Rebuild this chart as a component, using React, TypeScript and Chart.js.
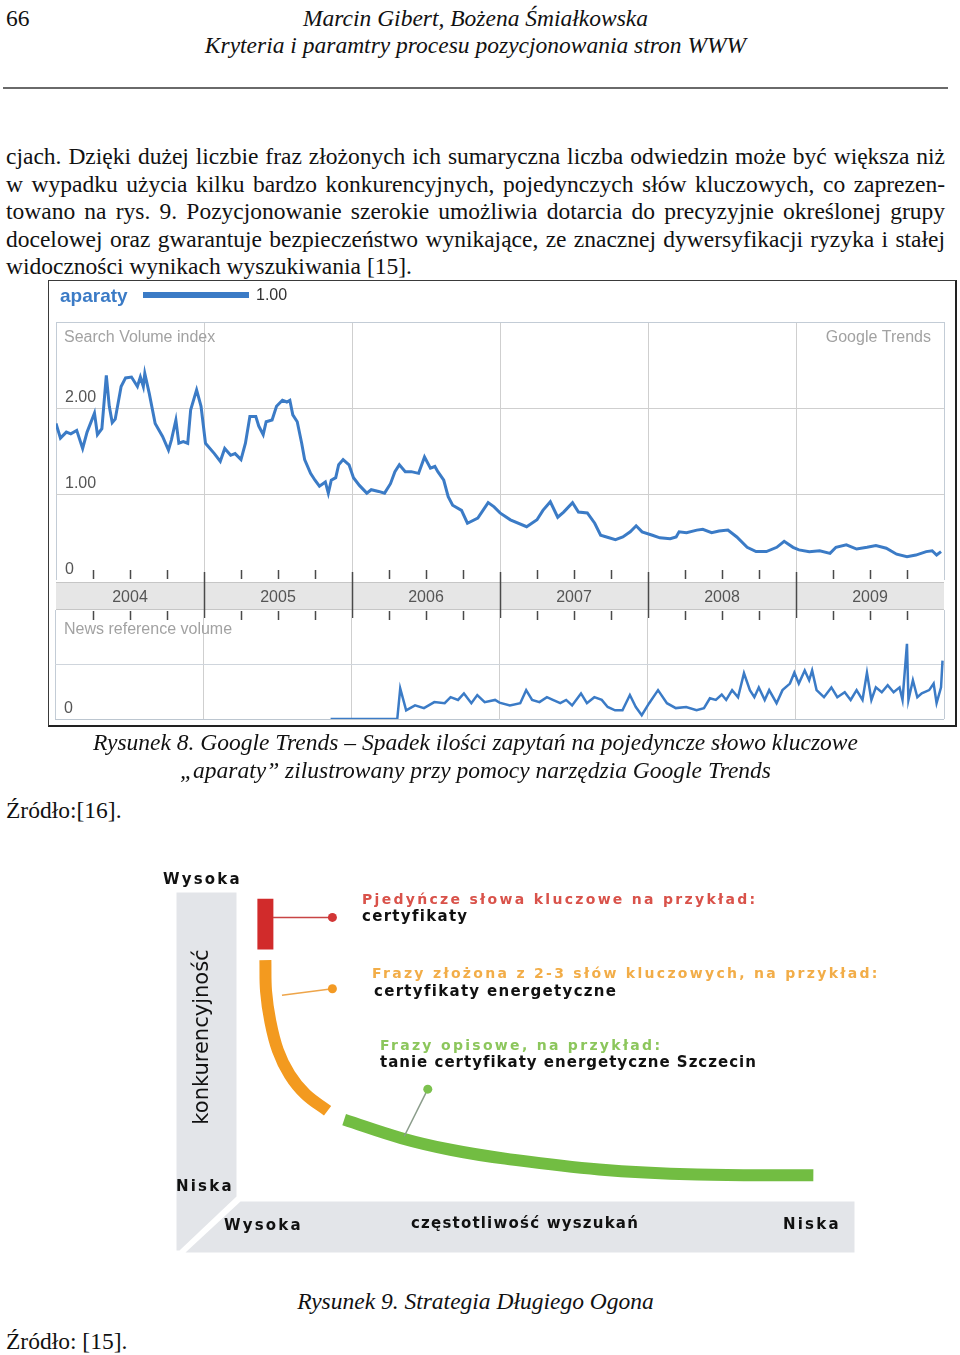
import React, { useEffect, useRef } from 'react';
import { Chart, registerables } from 'chart.js';

Chart.register(...registerables);

// ---------- Figure 8: Google Trends "aparaty" ----------
const yearLabels = ['2004', '2005', '2006', '2007', '2008', '2009'];
const legendLabel = 'aparaty';
const legendValue = '1.00';

const searchDates = [
  2004.00, 2004.03, 2004.07, 2004.10, 2004.14, 2004.18, 2004.21, 2004.26, 2004.28, 2004.31,
  2004.34, 2004.36, 2004.38, 2004.40, 2004.44, 2004.47, 2004.51, 2004.55, 2004.57, 2004.59,
  2004.60, 2004.63, 2004.67, 2004.72, 2004.76, 2004.78, 2004.81, 2004.83, 2004.86, 2004.89,
  2004.91, 2004.95, 2004.98, 2005.01, 2005.07, 2005.11, 2005.14, 2005.18, 2005.21, 2005.25,
  2005.28, 2005.31, 2005.35, 2005.37, 2005.40, 2005.42, 2005.46, 2005.49, 2005.53, 2005.56,
  2005.58, 2005.60, 2005.63, 2005.66, 2005.68, 2005.72, 2005.75, 2005.78, 2005.82, 2005.84,
  2005.86, 2005.89, 2005.91, 2005.94, 2005.98, 2006.01, 2006.05, 2006.10, 2006.13, 2006.18,
  2006.22, 2006.26, 2006.29, 2006.32, 2006.36, 2006.40, 2006.45, 2006.49, 2006.53, 2006.56,
  2006.58, 2006.62, 2006.65, 2006.68, 2006.74, 2006.78, 2006.85, 2006.92, 2006.96, 2007.00,
  2007.07, 2007.18, 2007.25, 2007.29, 2007.34, 2007.39, 2007.43, 2007.49, 2007.53, 2007.59,
  2007.64, 2007.68, 2007.72, 2007.78, 2007.83, 2007.88, 2007.92, 2007.96, 2008.03, 2008.08,
  2008.15, 2008.19, 2008.21, 2008.26, 2008.33, 2008.37, 2008.43, 2008.48, 2008.54, 2008.60,
  2008.67, 2008.73, 2008.80, 2008.87, 2008.92, 2008.98, 2009.02, 2009.09, 2009.16, 2009.23,
  2009.27, 2009.34, 2009.41, 2009.48, 2009.54, 2009.61, 2009.68, 2009.75, 2009.81, 2009.88,
  2009.92, 2009.95, 2009.98,
];
const searchValues = [
  1.82, 1.65, 1.72, 1.70, 1.74, 1.53, 1.72, 1.94, 1.69, 1.76,
  2.38, 2.02, 1.83, 1.87, 2.25, 2.35, 2.36, 2.25, 2.36, 2.25,
  2.40, 2.17, 1.82, 1.67, 1.51, 1.63, 1.86, 1.59, 1.61, 1.59,
  1.98, 2.21, 2.02, 1.59, 1.47, 1.38, 1.53, 1.45, 1.47, 1.40,
  1.59, 1.90, 1.90, 1.79, 1.69, 1.84, 1.86, 2.02, 2.09, 2.07,
  2.09, 1.92, 1.84, 1.59, 1.40, 1.24, 1.16, 1.09, 1.14, 1.01,
  1.16, 1.19, 1.34, 1.40, 1.34, 1.19, 1.10, 1.01, 1.05, 1.03,
  1.01, 1.12, 1.26, 1.34, 1.26, 1.26, 1.24, 1.43, 1.30, 1.32,
  1.26, 1.16, 0.97, 0.87, 0.81, 0.66, 0.72, 0.90, 0.85, 0.78,
  0.70, 0.62, 0.70, 0.81, 0.91, 0.73, 0.79, 0.90, 0.79, 0.78,
  0.66, 0.52, 0.50, 0.47, 0.50, 0.56, 0.63, 0.56, 0.52, 0.49,
  0.48, 0.50, 0.56, 0.55, 0.58, 0.59, 0.55, 0.57, 0.58, 0.50,
  0.38, 0.33, 0.33, 0.38, 0.45, 0.38, 0.35, 0.33, 0.34, 0.31,
  0.38, 0.41, 0.36, 0.38, 0.40, 0.37, 0.30, 0.27, 0.29, 0.33,
  0.34, 0.29, 0.33,
];

const newsDates = [
  2005.86, 2006.31, 2006.33, 2006.37, 2006.43, 2006.49, 2006.56, 2006.63, 2006.67, 2006.72,
  2006.76, 2006.81, 2006.85, 2006.90, 2006.97, 2007.00, 2007.07, 2007.14, 2007.18, 2007.22,
  2007.27, 2007.32, 2007.36, 2007.41, 2007.45, 2007.49, 2007.55, 2007.59, 2007.64, 2007.69,
  2007.73, 2007.78, 2007.83, 2007.88, 2007.92, 2007.96, 2008.01, 2008.07, 2008.13, 2008.19,
  2008.26, 2008.33, 2008.38, 2008.42, 2008.46, 2008.50, 2008.53, 2008.57, 2008.61, 2008.65,
  2008.69, 2008.72, 2008.75, 2008.79, 2008.82, 2008.87, 2008.91, 2008.96, 2008.99, 2009.02,
  2009.06, 2009.09, 2009.11, 2009.14, 2009.19, 2009.24, 2009.28, 2009.33, 2009.37, 2009.41,
  2009.45, 2009.48, 2009.51, 2009.54, 2009.58, 2009.62, 2009.66, 2009.70, 2009.72, 2009.75,
  2009.76, 2009.79, 2009.82, 2009.85, 2009.90, 2009.93, 2009.95, 2009.98, 2009.99,
];
const newsValues = [
  0.00, 0.00, 0.56, 0.16, 0.25, 0.20, 0.31, 0.29, 0.40, 0.35,
  0.47, 0.29, 0.44, 0.31, 0.35, 0.30, 0.25, 0.29, 0.53, 0.35,
  0.31, 0.40, 0.35, 0.29, 0.35, 0.25, 0.47, 0.29, 0.40, 0.35,
  0.22, 0.16, 0.16, 0.44, 0.22, 0.07, 0.29, 0.53, 0.29, 0.20,
  0.22, 0.16, 0.20, 0.38, 0.35, 0.45, 0.35, 0.53, 0.40, 0.84,
  0.53, 0.40, 0.58, 0.35, 0.53, 0.29, 0.53, 0.65, 0.85, 0.65,
  0.89, 0.71, 0.89, 0.53, 0.40, 0.58, 0.40, 0.49, 0.35, 0.53,
  0.35, 0.85, 0.35, 0.58, 0.49, 0.62, 0.49, 0.58, 0.35, 1.38,
  0.35, 0.71, 0.40, 0.47, 0.53, 0.65, 0.29, 0.58, 1.07,
];

// ---------- Figure 9: long tail (frequency 0-100 → x, competition 0-100 → y) ----------
const headX = [14.6, 14.6];
const headY = [91.1, 78.0];
const midX = [14.6, 14.7, 15.3, 16.4, 18.1, 20.4, 23.6];
const midY = [75.2, 67.1, 59.5, 51.9, 45.6, 40.5, 36.2];
const tailX = [26.0, 34.3, 41.4, 49.3, 62.9, 77.1, 93.9];
const tailY = [33.9, 29.1, 26.1, 23.8, 21.0, 19.7, 19.5];
const headLinkX = [15.7, 24.3];
const headLinkY = [86.3, 86.3];
const midLinkX = [17.0, 24.3];
const midLinkY = [66.1, 67.8];
const tailLinkX = [34.7, 38.1];
const tailLinkY = [29.6, 41.8];

const BLUE = '#3b7bc6';
const SANS = '"Liberation Sans", Arial, sans-serif';
const SERIF = '"Liberation Serif", "Times New Roman", serif';
const VERD = '"DejaVu Sans", Verdana, sans-serif';

function TrendsTop() {
  const ref = useRef<HTMLCanvasElement>(null);
  useEffect(() => {
    const deco = {
      id: 'deco',
      beforeDraw(chart: any) {
        const { ctx, chartArea: a } = chart;
        ctx.save();
        ctx.fillStyle = '#e6e6e6';
        ctx.fillRect(a.left, a.bottom + 2, a.right - a.left, 28);
        ctx.strokeStyle = '#c6c6c6';
        ctx.lineWidth = 1;
        ctx.beginPath();
        ctx.moveTo(a.left, a.bottom + 2.5);
        ctx.lineTo(a.right, a.bottom + 2.5);
        ctx.moveTo(a.left, a.bottom + 29.5);
        ctx.lineTo(a.right, a.bottom + 29.5);
        ctx.stroke();
        ctx.restore();
      },
      afterDraw(chart: any) {
        const { ctx, chartArea: a, scales } = chart;
        const xs = scales.x;
        ctx.save();
        ctx.strokeStyle = '#4a4a4a';
        ctx.lineWidth = 1.5;
        xs.ticks.forEach((t: any) => {
          const v = t.value;
          if (v <= xs.min || v >= xs.max) return;
          const px = Math.round(xs.getPixelForValue(v)) + 0.5;
          ctx.beginPath();
          if (Number.isInteger(v)) {
            ctx.moveTo(px, a.bottom - 8);
            ctx.lineTo(px, a.bottom + 38);
          } else {
            ctx.moveTo(px, a.bottom - 10);
            ctx.lineTo(px, a.bottom - 1);
            ctx.moveTo(px, a.bottom + 31);
            ctx.lineTo(px, a.bottom + 40);
          }
          ctx.stroke();
        });
        ctx.textBaseline = 'middle';
        ctx.font = `bold 19px ${SANS}`;
        ctx.fillStyle = BLUE;
        ctx.fillText(legendLabel, 12, 17);
        ctx.strokeStyle = BLUE;
        ctx.lineWidth = 6;
        ctx.beginPath();
        ctx.moveTo(95, 15);
        ctx.lineTo(201, 15);
        ctx.stroke();
        ctx.font = `16px ${SANS}`;
        ctx.fillStyle = '#333';
        ctx.fillText(legendValue, 208, 16);
        ctx.fillStyle = '#a2a2a2';
        ctx.fillText('Search Volume index', a.left + 8, a.top + 16);
        ctx.textAlign = 'right';
        ctx.fillText('Google Trends', a.right - 13, a.top + 16);
        ctx.restore();
      },
    };
    const chart = new Chart(ref.current as HTMLCanvasElement, {
      type: 'line',
      data: {
        datasets: [
          {
            data: searchDates.map((d, i) => ({ x: d, y: searchValues[i] })),
            borderColor: BLUE,
            borderWidth: 3,
            pointRadius: 0,
            tension: 0,
          },
        ],
      },
      options: {
        animation: false,
        responsive: false,
        maintainAspectRatio: false,
        layout: { padding: { top: 42, left: 7, right: 13, bottom: 12 } },
        plugins: { legend: { display: false }, tooltip: { enabled: false } },
        scales: {
          x: {
            type: 'linear',
            min: 2004,
            max: 2010,
            afterFit: (s: any) => { s.height = 30; },
            border: { display: false },
            grid: {
              drawTicks: false,
              lineWidth: 1,
              color: (c: any) => {
                const v = c.tick ? c.tick.value : 0;
                if (v === 2004 || v === 2010) return '#c3ccd6';
                return v % 1 === 0 ? '#cfcfcf' : 'rgba(0,0,0,0)';
              },
            },
            ticks: {
              stepSize: 0.25,
              autoSkip: false,
              maxRotation: 0,
              padding: 8,
              color: '#555',
              font: { family: SANS, size: 16 },
              callback: (v: any) => (v % 1 === 0.5 ? yearLabels[Math.floor(v) - 2004] : ''),
            },
          },
          y: {
            min: 0,
            max: 3,
            afterFit: (s: any) => { s.width = 0; },
            border: { display: false },
            grid: {
              drawTicks: false,
              color: (c: any) => {
                const v = c.tick ? c.tick.value : 0;
                if (v === 3) return '#c3ccd6';
                if (v === 0) return 'rgba(0,0,0,0)';
                return '#cfcfcf';
              },
            },
            ticks: {
              stepSize: 1,
              mirror: true,
              padding: 9,
              labelOffset: -10,
              color: '#555',
              font: { family: SANS, size: 16 },
              callback: (v: any) => (v === 3 ? '' : v === 0 ? '0' : Number(v).toFixed(2)),
            },
          },
        },
      },
      plugins: [deco],
    } as any);
    return () => chart.destroy();
  }, []);
  return (
    <canvas
      ref={ref}
      width={909}
      height={342}
      style={{ position: 'absolute', left: 48, top: 280, width: 909, height: 342 }}
    />
  );
}

function TrendsNews() {
  const ref = useRef<HTMLCanvasElement>(null);
  useEffect(() => {
    const deco = {
      id: 'decoNews',
      afterDraw(chart: any) {
        const { ctx, chartArea: a } = chart;
        ctx.save();
        ctx.textBaseline = 'middle';
        ctx.font = `16px ${SANS}`;
        ctx.fillStyle = '#a2a2a2';
        ctx.fillText('News reference volume', a.left + 9, a.top + 20);
        ctx.restore();
      },
    };
    const chart = new Chart(ref.current as HTMLCanvasElement, {
      type: 'line',
      data: {
        datasets: [
          {
            data: newsDates.map((d, i) => ({ x: d, y: newsValues[i] })),
            borderColor: BLUE,
            borderWidth: 2.5,
            pointRadius: 0,
            tension: 0,
          },
        ],
      },
      options: {
        animation: false,
        responsive: false,
        maintainAspectRatio: false,
        layout: { padding: { top: 20, left: 7, right: 13, bottom: 21 } },
        plugins: { legend: { display: false }, tooltip: { enabled: false } },
        scales: {
          x: {
            type: 'linear',
            min: 2004,
            max: 2010,
            afterFit: (s: any) => { s.height = 0; },
            border: { display: false },
            grid: {
              drawTicks: false,
              color: (c: any) => {
                const v = c.tick ? c.tick.value : 0;
                if (v === 2004 || v === 2010) return '#c3ccd6';
                return v % 1 === 0 ? '#cfcfcf' : 'rgba(0,0,0,0)';
              },
            },
            ticks: { display: false, stepSize: 1 },
          },
          y: {
            min: 0,
            max: 2,
            afterFit: (s: any) => { s.width = 0; },
            border: { display: false },
            grid: {
              drawTicks: false,
              color: (c: any) => {
                const v = c.tick ? c.tick.value : 0;
                if (v === 2) return 'rgba(0,0,0,0)';
                if (v === 0) return '#bcc6d0';
                return '#cfd5dc';
              },
            },
            ticks: {
              stepSize: 1,
              mirror: true,
              padding: 9,
              labelOffset: -10,
              color: '#555',
              font: { family: SANS, size: 16 },
              callback: (v: any) => (v === 0 ? '0' : ''),
            },
          },
        },
      },
      plugins: [deco],
    } as any);
    return () => chart.destroy();
  }, []);
  return (
    <canvas
      ref={ref}
      width={909}
      height={150}
      style={{ position: 'absolute', left: 48, top: 590, width: 909, height: 150 }}
    />
  );
}

function LongTail() {
  const ref = useRef<HTMLCanvasElement>(null);
  useEffect(() => {
    const pts = (xs: number[], ys: number[]) => xs.map((x, i) => ({ x, y: ys[i] }));
    const floor = {
      id: 'floor',
      beforeDraw(chart: any) {
        const { ctx, chartArea: a } = chart;
        const L = a.left;
        const T = a.top;
        ctx.save();
        ctx.fillStyle = '#e3e5e9';
        ctx.beginPath();
        ctx.moveTo(L + 12, T + 28);
        ctx.lineTo(L + 72, T + 28);
        ctx.lineTo(L + 72, T + 332);
        ctx.lineTo(L + 15, T + 386);
        ctx.lineTo(L + 12, T + 386);
        ctx.closePath();
        ctx.fill();
        ctx.beginPath();
        ctx.moveTo(L + 76, T + 337);
        ctx.lineTo(L + 690, T + 337);
        ctx.lineTo(L + 690, T + 388);
        ctx.lineTo(L + 21, T + 388);
        ctx.closePath();
        ctx.fill();
        ctx.restore();
      },
    };
    const link = (xs: number[], ys: number[], line: string, dot: string) => ({
      data: pts(xs, ys),
      borderColor: line,
      borderWidth: 1.5,
      pointRadius: [0, 4.5],
      pointBackgroundColor: dot,
      pointBorderWidth: 0,
      tension: 0,
    });
    const curve = (xs: number[], ys: number[], color: string, w: number) => ({
      data: pts(xs, ys),
      borderColor: color,
      borderWidth: w,
      borderCapStyle: 'butt',
      pointRadius: 0,
      tension: 0.4,
    });
    const chart = new Chart(ref.current as HTMLCanvasElement, {
      type: 'line',
      data: {
        datasets: [
          link(headLinkX, headLinkY, '#c84444', '#d23636'),
          link(midLinkX, midLinkY, '#eea54a', '#f39a24'),
          link(tailLinkX, tailLinkY, '#8a9c8a', '#7cc14e'),
          curve(headX, headY, '#d12b2b', 16),
          curve(midX, midY, '#f39a1f', 12),
          curve(tailX, tailY, '#72bd42', 12),
        ],
      },
      options: {
        animation: false,
        responsive: false,
        maintainAspectRatio: false,
        layout: { padding: 0 },
        plugins: { legend: { display: false }, tooltip: { enabled: false } },
        scales: {
          x: { type: 'linear', min: 0, max: 100, display: false },
          y: { type: 'linear', min: 0, max: 100, display: false },
        },
      },
      plugins: [floor],
    } as any);
    return () => chart.destroy();
  }, []);
  return (
    <canvas
      ref={ref}
      width={700}
      height={395}
      style={{ position: 'absolute', left: 160, top: 860, width: 700, height: 395 }}
    />
  );
}

const serifBase = (base: number) => base - 21.4;

function SerifLine(props: {
  text: string;
  base: number;
  left?: number;
  width?: number;
  italic?: boolean;
  justify?: boolean;
  center?: boolean;
}) {
  const { text, base, left = 6, width, italic, justify, center } = props;
  const style: React.CSSProperties = {
    position: 'absolute',
    top: serifBase(base),
    left: center ? 0 : left,
    fontFamily: SERIF,
    fontSize: 23.5,
    lineHeight: '27px',
    fontStyle: italic ? 'italic' : 'normal',
    color: '#111',
    whiteSpace: justify ? 'normal' : 'nowrap',
  };
  if (justify) {
    style.width = width;
    style.textAlign = 'justify';
    (style as any).textAlignLast = 'justify';
  }
  if (center) {
    style.width = 951;
    style.textAlign = 'center';
  }
  return <div style={style}>{text}</div>;
}

function Label(props: {
  text: string;
  left: number;
  cy: number;
  color?: string;
  size?: number;
  ls?: number;
}) {
  const { text, left, cy, color = '#111', size = 15, ls = 1.3 } = props;
  return (
    <div
      style={{
        position: 'absolute',
        left,
        top: cy - 7,
        fontFamily: VERD,
        fontWeight: 'bold',
        fontSize: size,
        lineHeight: '17px',
        letterSpacing: ls,
        color,
        whiteSpace: 'nowrap',
      }}
    >
      {text}
    </div>
  );
}

const paragraph = [
  'cjach. Dzięki dużej liczbie fraz złożonych ich sumaryczna liczba odwiedzin może być większa niż',
  'w wypadku użycia kilku bardzo konkurencyjnych, pojedynczych słów kluczowych, co zaprezen-',
  'towano na rys. 9. Pozycjonowanie szerokie umożliwia dotarcia do precyzyjnie określonej grupy',
  'docelowej oraz gwarantuje bezpieczeństwo wynikające, ze znacznej dywersyfikacji ryzyka i  stałej',
];
const paragraphLast = 'widoczności wynikach wyszukiwania [15].';

export default function App() {
  return (
    <div
      style={{
        position: 'absolute',
        left: 0,
        top: 0,
        width: 960,
        height: 1355,
        background: '#fff',
        overflow: 'hidden',
      }}
    >
      <SerifLine text="66" base={26} left={6} />
      <SerifLine text="Marcin Gibert, Bożena Śmiałkowska" base={26} italic center />
      <SerifLine text="Kryteria i paramtry procesu pozycjonowania stron WWW" base={53} italic center />
      <div style={{ position: 'absolute', left: 3, top: 87, width: 945, height: 2, background: '#6a6a6a' }} />

      {paragraph.map((t, i) => (
        <SerifLine key={i} text={t} base={164.5 + i * 27.5} left={6} width={939} justify />
      ))}
      <SerifLine text={paragraphLast} base={274.5} left={6} />

      <div
        style={{
          position: 'absolute',
          left: 48,
          top: 280,
          width: 909,
          height: 447,
          boxSizing: 'border-box',
          border: '1px solid #3a3a3a',
          borderRight: '2px solid #222',
          borderBottom: '2px solid #222',
          background: '#fff',
        }}
      />
      <TrendsTop />
      <TrendsNews />

      <SerifLine
        text="Rysunek 8. Google Trends – Spadek ilości zapytań na pojedyncze słowo kluczowe"
        base={750}
        italic
        center
      />
      <SerifLine text="„aparaty” zilustrowany przy pomocy narzędzia Google Trends" base={778} italic center />
      <SerifLine text="Źródło:[16]." base={818} left={6} />

      <LongTail />
      <Label text="Wysoka" left={163} cy={878} ls={2.2} />
      <Label text="Pjedyńcze słowa kluczowe na przykład:" left={362} cy={898} color="#d9524a" size={14} ls={2.3} />
      <Label text="certyfikaty" left={362} cy={915} />
      <Label text="Frazy złożona z 2-3 słów kluczowych, na przykład:" left={372} cy={972} color="#f2ad48" size={14} ls={2.3} />
      <Label text="certyfikaty energetyczne" left={374} cy={990} />
      <Label text="Frazy opisowe, na przykład:" left={380} cy={1044} color="#8cc65c" size={14} ls={2.3} />
      <Label text="tanie certyfikaty energetyczne Szczecin" left={380} cy={1061} ls={1.0} />
      <Label text="Niska" left={176} cy={1185} ls={2.2} />
      <Label text="Wysoka" left={224} cy={1224} ls={2.2} />
      <Label text="częstotliwość wyszukań" left={411} cy={1222} ls={1.2} />
      <Label text="Niska" left={783} cy={1223} ls={2.2} />
      <div
        style={{
          position: 'absolute',
          left: 201,
          top: 1037,
          transform: 'translate(-50%, -50%) rotate(-90deg)',
          fontFamily: VERD,
          fontSize: 21,
          lineHeight: '24px',
          color: '#111',
          whiteSpace: 'nowrap',
        }}
      >
        konkurencyjność
      </div>

      <SerifLine text="Rysunek 9. Strategia Długiego Ogona" base={1309} italic center />
      <SerifLine text="Źródło: [15]." base={1349} left={6} />
    </div>
  );
}
